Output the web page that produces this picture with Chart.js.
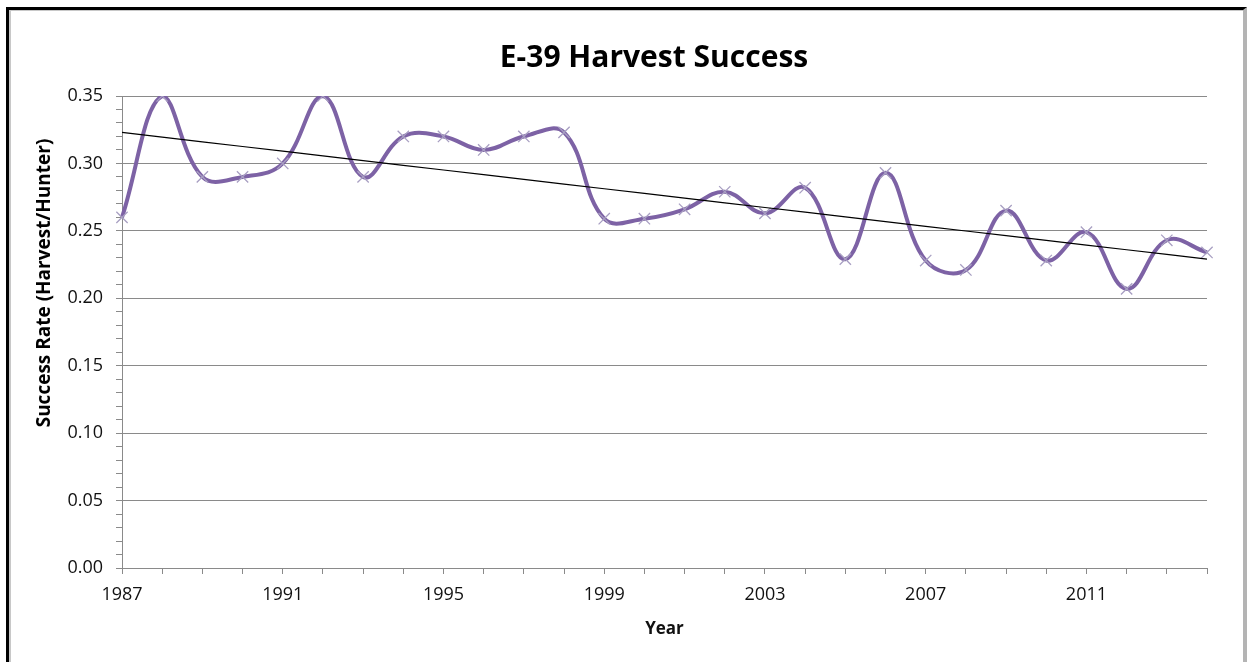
<!DOCTYPE html>
<html>
<head>
<meta charset="utf-8">
<title>E-39 Harvest Success</title>
<script src="https://cdn.jsdelivr.net/npm/chart.js@4.4.1/dist/chart.umd.min.js"></script>
<style>
  html, body { margin: 0; padding: 0; background: #ffffff; }
  #wrap { position: relative; width: 1249px; height: 662px; overflow: hidden; }
  #c { position: absolute; left: 0; top: 0; }
  #frame {
    position: absolute; left: 6px; top: 7px; width: 1234px; height: 670px;
    border-left: 3px solid #000; border-top: 3px solid #000;
    border-right: 4px solid #b4b4b4; pointer-events: none;
  }
  #frame::before {
    content: ""; position: absolute; left: 0; top: 0; right: 0; bottom: 0;
    border-left: 2px solid #c8c8c8; border-top: 1px solid #c8c8c8;
  }
</style>
</head>
<body>
<div id="wrap">
  <canvas id="c" width="1249" height="662"></canvas>
  <div id="frame"></div>
</div>
<script>
// Hunting season years and the harvest success rate (harvest per hunter)
const years = [1987, 1988, 1989, 1990, 1991, 1992, 1993, 1994, 1995, 1996,
               1997, 1998, 1999, 2000, 2001, 2002, 2003, 2004, 2005, 2006,
               2007, 2008, 2009, 2010, 2011, 2012, 2013, 2014];
const successRate = [0.260, 0.350, 0.290, 0.290, 0.300, 0.350, 0.290, 0.320, 0.320, 0.310,
                     0.320, 0.323, 0.259, 0.259, 0.266, 0.279, 0.263, 0.282, 0.229, 0.293,
                     0.228, 0.221, 0.265, 0.228, 0.249, 0.207, 0.243, 0.234];
// Labelled years on the x axis and labelled values on the y axis
const xTickYears = [1987, 1991, 1995, 1999, 2003, 2007, 2011];
const yTickLabels = ['0.00', '0.05', '0.10', '0.15', '0.20', '0.25', '0.30', '0.35'];

const chartTitle = 'E-39 Harvest Success';
const yAxisTitle = 'Success Rate (Harvest/Hunter)';
const xAxisTitle = 'Year';

// Least-squares linear trendline through the yearly rates
const n = successRate.length;
const meanX = years.reduce((a, b) => a + b, 0) / n;
const meanY = successRate.reduce((a, b) => a + b, 0) / n;
let sxy = 0, sxx = 0;
years.forEach((yr, i) => { sxy += (yr - meanX) * (successRate[i] - meanY); sxx += (yr - meanX) ** 2; });
const slope = sxy / sxx;
const trend = years.map(yr => meanY + slope * (yr - meanX));

const GRID = '#8a8a8a';
const LABEL_FONT = '"Open Sans", Lato, sans-serif';

// Chart title and rotated value-axis title
const textPlugin = {
  id: 'chartTexts',
  afterDraw(chart) {
    const ctx = chart.ctx;
    ctx.save();
    ctx.fillStyle = '#000';
    ctx.textAlign = 'center';
    ctx.textBaseline = 'middle';
    ctx.font = 'bold 30px ' + LABEL_FONT;
    ctx.fillText(chartTitle, 654, 58);
    ctx.translate(45, 283);
    ctx.rotate(-Math.PI / 2);
    ctx.font = 'bold 19px ' + LABEL_FONT;
    ctx.fillText(yAxisTitle, 0, 0);
    ctx.restore();
  }
};

const isMajor = v => Math.round(v * 100) % 5 === 0;

new Chart(document.getElementById('c'), {
  type: 'line',
  data: {
    labels: years,
    datasets: [
      {
        label: 'Linear trend',
        data: trend,
        borderColor: '#000000',
        borderWidth: 1.2,
        pointRadius: 0,
        tension: 0,
        order: 0
      },
      {
        label: 'Success rate',
        data: successRate,
        borderColor: '#7d62a5',
        borderWidth: 4,
        tension: 0.4,
        pointStyle: 'crossRot',
        pointRadius: 8,
        pointBorderColor: '#a89fc2',
        pointBorderWidth: 1.3,
        pointBackgroundColor: '#a89fc2',
        order: 1
      }
    ]
  },
  options: {
    responsive: false,
    animation: false,
    events: [],
    layout: { padding: { top: 96, right: 42, bottom: 0, left: 0 } },
    plugins: { legend: { display: false }, title: { display: false }, tooltip: { enabled: false } },
    scales: {
      x: {
        type: 'category',
        offset: false,
        afterFit(s) { s.height = 94; },
        grid: { drawOnChartArea: false, offset: false, color: GRID, tickLength: 6, tickWidth: 1 },
        border: { color: GRID, width: 1 },
        ticks: {
          autoSkip: false,
          maxRotation: 0,
          padding: 10,
          color: '#111',
          font: { family: LABEL_FONT, size: 18 },
          callback(value, index) {
            const yr = years[index];
            return xTickYears.includes(yr) ? String(yr) : '';
          }
        },
        title: {
          display: true,
          text: xAxisTitle,
          color: '#111',
          font: { family: LABEL_FONT, size: 17, weight: 'bold' },
          padding: { top: 0, bottom: 23 }
        }
      },
      y: {
        min: 0,
        max: 0.35,
        afterFit(s) { s.width = 122; },
        grid: {
          color: ctx => isMajor(ctx.tick.value) ? GRID : 'rgba(0,0,0,0)',
          tickColor: GRID,
          tickLength: 6,
          lineWidth: 1
        },
        border: { color: GRID, width: 1 },
        ticks: {
          stepSize: 0.01,
          autoSkip: false,
          padding: 13,
          color: '#111',
          font: { family: LABEL_FONT, size: 18 },
          callback(value) {
            const k = Math.round(value * 100);
            return k % 5 === 0 ? yTickLabels[k / 5] : '';
          }
        }
      }
    }
  },
  plugins: [textPlugin]
});
</script>
</body>
</html>
